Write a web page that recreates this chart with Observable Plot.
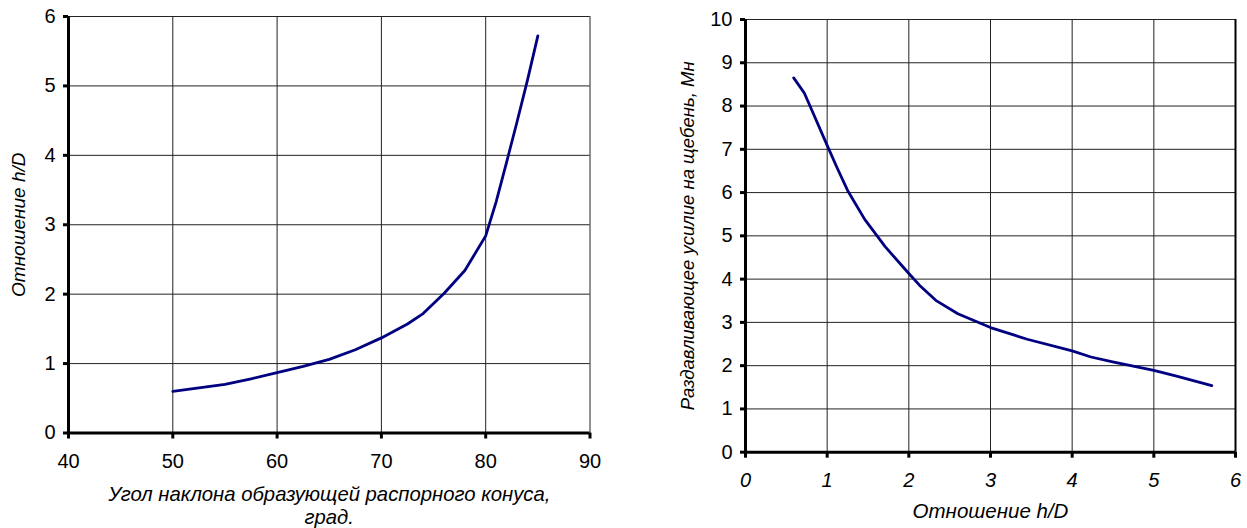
<!DOCTYPE html>
<html>
<head>
<meta charset="utf-8">
<script src="https://cdn.jsdelivr.net/npm/d3@7"></script>
<script src="https://cdn.jsdelivr.net/npm/@observablehq/plot@0.6"></script>
<style>
  html, body { margin: 0; padding: 0; background: #fff; }
  #wrap { position: relative; width: 1247px; height: 528px; overflow: hidden; }
  #left { position: absolute; left: 0; top: 0; }
  #right { position: absolute; left: 620px; top: 0; }
  svg { overflow: visible; }
</style>
</head>
<body>
<div id="wrap"><div id="left"></div><div id="right"></div></div>
<script>
// Left chart: angle of the cone generatrix (deg) vs h/D ratio
const angleDeg = [50, 52.5, 55, 57.5, 60, 62.5, 65, 67.5, 70, 72.5, 74, 76, 78, 80, 81, 82, 83, 84, 85];
const ratioHD  = [0.60, 0.65, 0.70, 0.78, 0.87, 0.96, 1.06, 1.20, 1.37, 1.57, 1.72, 2.01, 2.34, 2.84, 3.33, 3.90, 4.48, 5.08, 5.72];

// Right chart: h/D ratio vs crushing force (MN)
const hdRatio = [0.59, 0.72, 0.79, 1.00, 1.12, 1.25, 1.46, 1.71, 2.00, 2.13, 2.33, 2.60, 3.00, 3.45, 4.00, 4.23, 4.51, 5.00, 5.29, 5.71];
const forceMN = [8.65, 8.30, 8.00, 7.09, 6.58, 6.05, 5.38, 4.75, 4.13, 3.86, 3.51, 3.20, 2.88, 2.61, 2.34, 2.20, 2.08, 1.89, 1.75, 1.54];

// Tick labels
const leftXTicks  = [40, 50, 60, 70, 80, 90];
const leftYTicks  = [0, 1, 2, 3, 4, 5, 6];
const rightXTicks = [0, 1, 2, 3, 4, 5, 6];
const rightYTicks = [0, 1, 2, 3, 4, 5, 6, 7, 8, 9, 10];

// Titles
const leftXTitle  = "Угол наклона образующей распорного конуса,\nград.";
const leftYTitle  = "Отношение h/D";
const rightXTitle = "Отношение h/D";
const rightYTitle = "Раздавливающее усилие на щебень, Мн";

const FONT = "'Liberation Sans', Arial, sans-serif";
const lineColor = "#000080";
const gridColor = "#222";
const fmt = d => String(d);

const leftData = angleDeg.map((a, i) => ({a, v: ratioHD[i]}));
const rightData = hdRatio.map((h, i) => ({h, f: forceMN[i]}));

const left = Plot.plot({
  width: 620, height: 528,
  marginLeft: 68, marginRight: 30.5, marginTop: 16, marginBottom: 95.5,
  style: {fontFamily: FONT, fontSize: "19px", color: "#000", background: "transparent", overflow: "visible"},
  x: {domain: [40, 90]},
  y: {domain: [0, 6]},
  marks: [
    Plot.gridX(leftXTicks.slice(1), {stroke: gridColor, strokeOpacity: 1, strokeWidth: 1}),
    Plot.gridY(leftYTicks.slice(1), {stroke: gridColor, strokeOpacity: 1, strokeWidth: 1}),
    Plot.line(leftData, {x: "a", y: "v", stroke: lineColor, strokeWidth: 2.8, strokeLinejoin: "round", strokeLinecap: "round"}),
    Plot.ruleY([0], {stroke: "#000", strokeWidth: 3}),
    Plot.ruleX([40], {stroke: "#000", strokeWidth: 3}),
    Plot.axisX(leftXTicks, {tickSize: 6, tickPadding: 15, strokeWidth: 3, label: null, fontSize: 20, tickFormat: fmt}),
    Plot.axisY(leftYTicks, {tickSize: 5, tickPadding: 8, strokeWidth: 3, label: null, fontSize: 20, tickFormat: fmt}),
    Plot.text([leftXTitle], {text: d => d, frameAnchor: "bottom", lineAnchor: "top", dy: 52, lineHeight: 1.13, fontStyle: "italic", fontSize: 20.3}),
    Plot.text([leftYTitle], {text: d => d, frameAnchor: "left", textAnchor: "middle", rotate: -90, dx: -50, fontStyle: "italic", fontSize: 19})
  ]
});
document.getElementById("left").appendChild(left);

const right = Plot.plot({
  width: 627, height: 528,
  marginLeft: 125, marginRight: 12, marginTop: 19, marginBottom: 76.3,
  style: {fontFamily: FONT, fontSize: "19px", color: "#000", background: "transparent", overflow: "visible"},
  x: {domain: [0, 6]},
  y: {domain: [0, 10]},
  marks: [
    Plot.gridX(rightXTicks.slice(1, -1), {stroke: gridColor, strokeOpacity: 1, strokeWidth: 1}),
    Plot.gridY(rightYTicks.slice(1), {stroke: gridColor, strokeOpacity: 1, strokeWidth: 1}),
    Plot.line(rightData, {x: "h", y: "f", stroke: lineColor, strokeWidth: 2.8, strokeLinejoin: "round", strokeLinecap: "round"}),
    Plot.ruleX([6], {stroke: "#000", strokeWidth: 2}),
    Plot.ruleY([0], {stroke: "#000", strokeWidth: 3}),
    Plot.ruleX([0], {stroke: "#000", strokeWidth: 3}),
    Plot.axisX(rightXTicks, {tickSize: 6, tickPadding: 15, strokeWidth: 3, label: null, fontSize: 20, fontStyle: "italic", tickFormat: fmt}),
    Plot.axisY(rightYTicks, {tickSize: 5, tickPadding: 8, strokeWidth: 3, label: null, fontSize: 20, tickFormat: fmt}),
    Plot.text([rightXTitle], {text: d => d, frameAnchor: "bottom", lineAnchor: "top", dy: 51.5, fontStyle: "italic", fontSize: 20.5}),
    Plot.text([rightYTitle], {text: d => d, frameAnchor: "left", textAnchor: "middle", rotate: -90, dx: -57, fontStyle: "italic", fontSize: 18.5})
  ]
});
document.getElementById("right").appendChild(right);
</script>
</body>
</html>
